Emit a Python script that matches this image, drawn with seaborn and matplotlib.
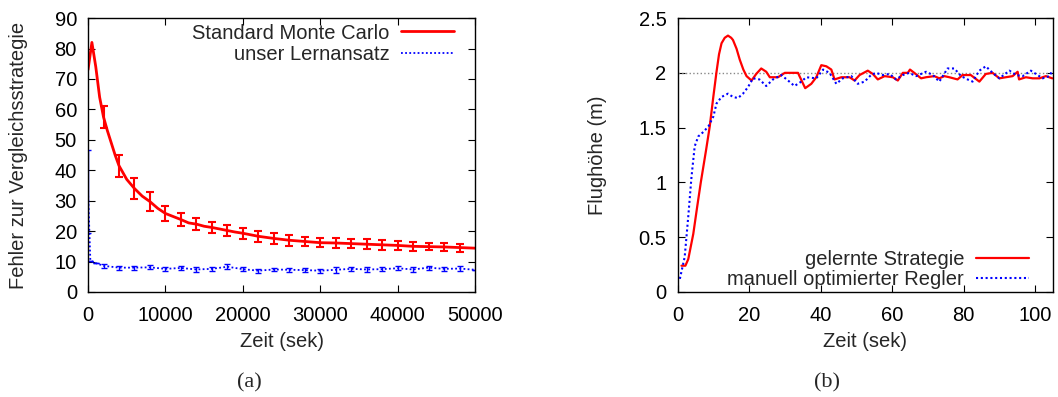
import numpy as np
import pandas as pd
import matplotlib
matplotlib.use("Agg")
import matplotlib.pyplot as plt
import seaborn as sns

# (a) Fehler zur Vergleichsstrategie
mc_zeit = [0, 500, 1000, 1500, 2000, 2500, 3000, 3500, 4000, 5000, 6000, 7000,
           8000, 9000, 10000, 11000, 12000, 13000, 14000, 15000, 16000, 17000,
           18000, 19000, 20000, 22000, 24000, 26000, 28000, 30000, 32000, 34000,
           36000, 38000, 40000, 42000, 44000, 46000, 48000, 50000]
mc_fehler = [73, 82, 74, 64, 57.5, 53, 49, 45, 41.5, 37, 34, 31.5,
             29.7, 27.5, 25.8, 24.8, 23.8, 22.7, 22.3, 21.6, 21.2, 20.7,
             20.2, 19.7, 19.3, 18.3, 17.6, 17.0, 16.6, 16.2, 16.1, 15.9,
             15.7, 15.5, 15.3, 15.0, 14.9, 14.8, 14.6, 14.4]
mc_err_zeit = [2000, 4000, 6000, 8000, 10000, 12000, 14000, 16000, 18000, 20000,
               22000, 24000, 26000, 28000, 30000, 32000, 34000, 36000, 38000,
               40000, 42000, 44000, 46000, 48000]
mc_err_wert = [57.5, 41.5, 34, 29.7, 25.8, 23.8, 22.3, 21.2, 20.2, 19.3,
               18.3, 17.6, 17.0, 16.6, 16.2, 16.1, 15.9, 15.7, 15.5,
               15.3, 15.0, 14.9, 14.8, 14.6]
mc_err = [3.5, 3.6, 3.3, 3.0, 2.6, 2.2, 2.0, 1.8, 1.8, 1.8, 1.9, 1.9, 1.8,
          1.6, 1.5, 1.6, 1.5, 1.6, 1.6, 1.5, 1.4, 1.2, 1.2, 1.3]

lern_zeit = [0, 300, 1000, 2000, 4000, 6000, 8000, 10000, 12000, 14000, 16000,
             18000, 20000, 22000, 24000, 26000, 28000, 30000, 32000, 34000,
             36000, 38000, 40000, 42000, 44000, 46000, 48000, 50000]
lern_fehler = [33, 10.3, 9.5, 8.6, 8.0, 8.0, 8.1, 7.6, 7.9, 7.4, 7.6,
               8.3, 7.5, 7.0, 7.4, 7.3, 7.2, 7.0, 7.3, 7.6,
               7.4, 7.5, 7.8, 7.4, 8.0, 7.6, 7.7, 7.3]
lern_err = [13.5, 0, 0, 0.7, 0.7, 0.7, 0.7, 0.6, 0.7, 0.7, 0.7,
            0.9, 0.7, 0.6, 0.6, 0.6, 0.6, 0.6, 0.9, 0.7,
            0.7, 0.7, 0.6, 0.7, 0.7, 0.7, 0.7, 0]

# (b) Flughoehe
strat_t = [1.1, 2.2, 3.0, 4.4, 5.5, 6.5, 7.2, 8.0, 9.0, 10.0, 10.9, 11.6, 12.3,
           13.2, 14.1, 15.0, 15.5, 16.5, 17.4, 18.4, 19.3, 20.7, 22.0, 23.4,
           24.8, 25.8, 26.7, 28.1, 30.0, 33.7, 34.1, 35.7, 37.4, 38.8, 40.2,
           41.6, 43.0, 43.9, 45.8, 48.1, 49.5, 50.9, 53.2, 54.6, 56.0, 57.9,
           60.2, 61.6, 63.0, 64.4, 65.0, 66.2, 68.1, 69.5, 71.8, 73.2, 74.6,
           76.0, 78.3, 79.7, 82.0, 84.4, 86.2, 88.1, 90.0, 91.8, 93.7, 95.1,
           95.5, 97.4, 99.3, 101.2, 103.0, 104.8]
strat_h = [0.24, 0.24, 0.30, 0.53, 0.78, 1.00, 1.14, 1.30, 1.51, 1.78, 2.01,
           2.17, 2.27, 2.32, 2.34, 2.32, 2.30, 2.22, 2.12, 2.03, 1.97, 1.93,
           1.99, 2.04, 2.01, 1.96, 1.96, 1.96, 2.00, 2.00, 1.97, 1.86, 1.90,
           1.96, 2.07, 2.06, 2.03, 1.94, 1.96, 1.96, 1.93, 1.98, 2.02, 1.99,
           1.94, 1.97, 1.96, 1.93, 2.00, 2.00, 2.03, 2.00, 1.95, 1.96, 1.97,
           1.95, 1.97, 1.96, 1.94, 1.98, 1.98, 1.92, 1.99, 2.00, 1.95, 1.96,
           1.97, 2.01, 1.94, 1.96, 1.95, 1.95, 1.97, 1.95]

regler_t = [0.65, 2.0, 3.0, 3.9, 4.8, 5.8, 7.2, 8.6, 10.0, 10.9, 12.3, 14.1,
            15.5, 16.9, 18.3, 19.7, 21.1, 22.9, 24.8, 26.7, 29.0, 30.9, 32.7,
            34.6, 36.0, 38.8, 40.7, 42.5, 44.4, 46.2, 48.6, 50.4, 52.3, 54.1,
            55.5, 57.4, 59.3, 61.1, 63.0, 64.8, 66.7, 69.5, 71.4, 73.2, 75.5,
            77.4, 79.3, 81.1, 82.5, 84.4, 86.2, 88.1, 90.0, 92.8, 94.7, 96.5,
            98.8, 100.2, 102.1, 104.0, 104.8]
regler_h = [0.12, 0.32, 0.69, 1.05, 1.33, 1.42, 1.46, 1.51, 1.60, 1.72, 1.78,
            1.81, 1.78, 1.77, 1.81, 1.87, 1.95, 1.94, 1.88, 1.94, 1.98, 1.93,
            1.88, 1.92, 1.96, 1.95, 2.03, 2.00, 1.90, 1.95, 1.97, 1.90, 1.92,
            1.98, 2.00, 1.98, 1.99, 1.94, 1.98, 2.00, 1.97, 2.01, 1.98, 1.92,
            2.04, 2.04, 1.97, 1.94, 1.92, 2.02, 2.06, 2.00, 1.95, 2.02, 1.98,
            1.97, 2.02, 1.99, 1.95, 1.97, 2.02]
soll_hoehe = 2.0

sns.set_style("ticks")
plt.rcParams["font.family"] = ["Liberation Sans", "DejaVu Sans"]

fs = 14.5
fig = plt.figure(figsize=(10.58, 3.97), dpi=100)
ax1 = fig.add_axes([0.0832, 0.2645, 0.3658, 0.690])
ax2 = fig.add_axes([0.6404, 0.2645, 0.3549, 0.690])

rot = "#ff0000"
blau = "#0000ff"
punkt = (0, (1, 1.3))

# linkes Diagramm
sns.lineplot(x=mc_zeit, y=mc_fehler, ax=ax1, color=rot, linewidth=2,
             label="Standard Monte Carlo")
ax1.errorbar(mc_err_zeit, mc_err_wert, yerr=mc_err, fmt="none", ecolor=rot,
             elinewidth=1.5, capsize=3, capthick=1.5)
sns.lineplot(x=lern_zeit, y=lern_fehler, ax=ax1, color=blau, linewidth=1.3,
             linestyle=punkt, label="unser Lernansatz")
ax1.errorbar(lern_zeit, lern_fehler, yerr=lern_err, fmt="none", ecolor=blau,
             elinewidth=1.0, capsize=2.5, capthick=1.0)
ax1.set_xlim(0, 50000)
ax1.set_ylim(0, 90)
ax1.set_xticks([0, 10000, 20000, 30000, 40000, 50000])
ax1.set_yticks(range(0, 91, 10))
ax1.set_xlabel("Zeit (sek)", fontsize=fs, va="center")
ax1.set_ylabel("Fehler zur Vergleichsstrategie", fontsize=fs, va="center")
ax1.xaxis.set_label_coords(0.5, -0.182)
ax1.yaxis.set_label_coords(-0.18, 0.5)
ax1.legend(loc="upper right", bbox_to_anchor=(0.945, 0.98), frameon=False,
           markerfirst=False, fontsize=fs, handlelength=2.6,
           handletextpad=0.6, labelspacing=0.1, borderpad=0, borderaxespad=0)

# rechtes Diagramm
ax2.axhline(soll_hoehe, color="#888888", linewidth=1, linestyle=":")
sns.lineplot(x=strat_t, y=strat_h, ax=ax2, color=rot, linewidth=1.6,
             label="gelernte Strategie")
sns.lineplot(x=regler_t, y=regler_h, ax=ax2, color=blau, linewidth=1.5,
             linestyle=punkt, label="manuell optimierter Regler")
ax2.set_xlim(0, 105)
ax2.set_ylim(0, 2.5)
ax2.set_xticks([0, 20, 40, 60, 80, 100])
ax2.set_yticks([0, 0.5, 1, 1.5, 2, 2.5])
ax2.set_yticklabels(["0", "0.5", "1", "1.5", "2", "2.5"])
ax2.set_xlabel("Zeit (sek)", fontsize=fs, va="center")
ax2.set_ylabel("Flughöhe (m)", fontsize=fs, va="center")
ax2.xaxis.set_label_coords(0.5, -0.182)
ax2.yaxis.set_label_coords(-0.214, 0.5)
ax2.legend(loc="lower right", bbox_to_anchor=(0.935, 0.01), frameon=False,
           markerfirst=False, fontsize=fs, handlelength=2.6,
           handletextpad=0.6, labelspacing=0.05, borderpad=0, borderaxespad=0)

for ax in (ax1, ax2):
    ax.tick_params(direction="in", top=True, right=True, length=5, width=0.8,
                   labelsize=fs, colors="black")
    ax.tick_params(axis="y", pad=8)
    ax.tick_params(axis="x", pad=10)
    for s in ax.spines.values():
        s.set_linewidth(1.0)
        s.set_color("black")

fig.text(249 / 1058, 1 - 383 / 397, "(a)", ha="center", va="center",
         fontsize=16, family=["Liberation Serif", "DejaVu Serif"])
fig.text(827 / 1058, 1 - 383 / 397, "(b)", ha="center", va="center",
         fontsize=16, family=["Liberation Serif", "DejaVu Serif"])

fig.savefig("out.png", dpi=100)
